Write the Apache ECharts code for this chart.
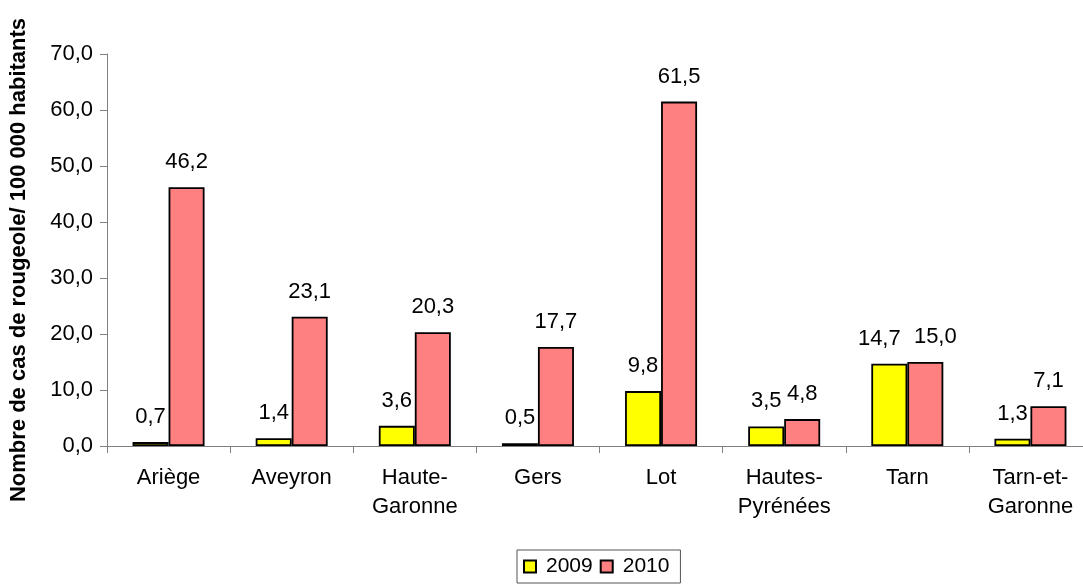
<!DOCTYPE html>
<html><head><meta charset="utf-8">
<script src="https://cdn.jsdelivr.net/npm/echarts@6/dist/echarts.min.js"></script>
<style>html,body{margin:0;padding:0;background:#fff;overflow:hidden}#wrap{width:1083px;height:587px;overflow:hidden}#c{width:1092px;height:587px}</style>
</head><body><div id="wrap"><div id="c"></div></div>
<script>
const categories = ['Ariège','Aveyron','Haute-\nGaronne','Gers','Lot','Hautes-\nPyrénées','Tarn','Tarn-et-\nGaronne'];
const values2009 = [0.7,1.4,3.6,0.5,9.8,3.5,14.7,1.3];
const values2010 = [46.2,23.1,20.3,17.7,61.5,4.8,15.0,7.1];
const yTicks = {min:0,max:70,interval:10};
const fmt = v => v.toFixed(1).replace('.',',');
const FONT = '"Liberation Sans", Arial, sans-serif';
const FS = 22;
const chart = echarts.init(document.getElementById('c'));
const lbl = {show:true,position:'top',distance:14,fontFamily:FONT,fontSize:FS,color:'#000',formatter:p=>fmt(p.value)};
// Spread labels apart where the two bars of a group have near-equal heights
function withLabelSpread(vals, other, dir){
  return vals.map((v,i)=> Math.abs(v-other[i])<0.5 ? {value:v,label:{offset:[dir*10,0]}} : v);
}
chart.setOption({
  animation:false,
  textStyle:{fontFamily:FONT},
  grid:{left:105,right:0,top:54,bottom:141},
  legend:{left:517,top:550,icon:'rect',itemWidth:12,itemHeight:12,itemGap:7,padding:[6,11,6,6],borderColor:'#555',borderWidth:1,
    textStyle:{fontFamily:FONT,fontSize:21,color:'#000',padding:[0,0,0,5]},data:['2009','2010']},
  xAxis:{type:'category',data:categories,
    axisLine:{lineStyle:{color:'#808080',width:1}},
    axisTick:{show:true,length:7,lineStyle:{color:'#808080'}},
    axisLabel:{fontFamily:FONT,fontSize:FS,color:'#000',lineHeight:29,margin:17}},
  yAxis:{type:'value',min:yTicks.min,max:yTicks.max,interval:yTicks.interval,
    name:'Nombre de cas de rougeole/ 100 000 habitants',nameLocation:'middle',nameGap:77,
    nameTextStyle:{fontFamily:FONT,fontSize:22,fontWeight:'bold',color:'#000',padding:[0,20,0,0]},
    axisLine:{show:true,lineStyle:{color:'#808080'}},
    axisTick:{show:true,length:7,lineStyle:{color:'#808080'}},
    splitLine:{show:false},
    axisLabel:{fontFamily:FONT,fontSize:FS,color:'#000',margin:14,formatter:v=>fmt(v)}},
  series:[
    {name:'2009',type:'bar',data:withLabelSpread(values2009,values2010,-1),barWidth:36,barGap:'0%',
      itemStyle:{color:'#FFFF00',borderColor:'#000',borderWidth:1.8},label:lbl},
    {name:'2010',type:'bar',data:withLabelSpread(values2010,values2009,1),barWidth:36,barGap:'0%',
      itemStyle:{color:'#FF8080',borderColor:'#000',borderWidth:1.8},label:lbl}
  ]
});
</script></body></html>
